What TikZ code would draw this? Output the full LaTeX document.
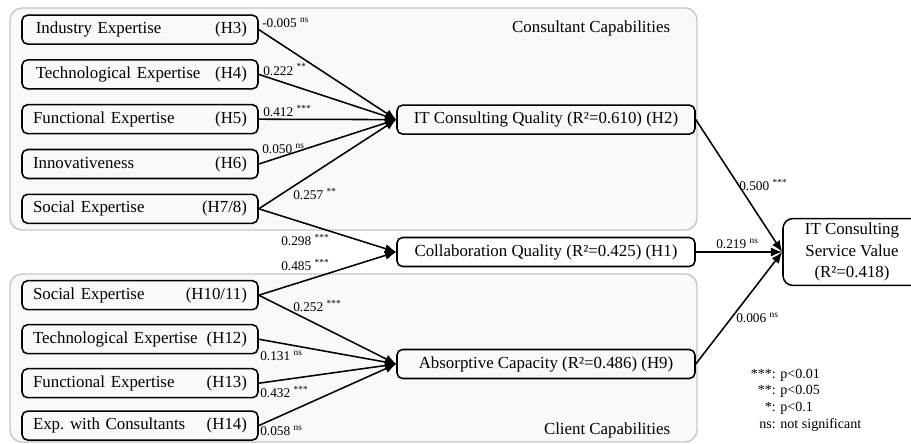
\documentclass[tikz,border=0pt]{standalone}
\usepackage{fontspec}
\setmainfont{Liberation Serif}
\usetikzlibrary{arrows.meta,positioning}

\begin{document}
\begin{tikzpicture}

\tikzset{capbox/.style = {shape=rectangle,draw,rounded corners=4pt,line width=1.1pt,minimum width=5.9cm,minimum height=0.725cm,text width=5.35cm,inner xsep=0.275cm,font=\fontsize{12}{14}\selectfont}}
\tikzset{conbox/.style = {shape=rectangle,draw,rounded corners=4pt,line width=1.1pt,minimum width=7.45cm,minimum height=0.725cm,align=center,font=\fontsize{12}{14}\selectfont}}
\tikzset{coef/.style = {anchor=west,inner sep=0pt,font=\fontsize{9.5}{11}\selectfont}}
\tikzset{edge1/.style = {-{Latex[length=8pt,width=6.5pt]},line width=1.1pt}}
\tikzset{capgroup/.style = {rounded corners=0.3cm,draw=gray!45,fill=gray!5,line width=1pt}}

\useasboundingbox (0,0) rectangle (22.775,-11.075);

% groups
\draw[capgroup] (0.25,-0.2) rectangle (17.425,-5.75);
\draw[capgroup] (0.25,-6.85) rectangle (17.425,-11.05);
\node[anchor=east,font=\fontsize{12}{14}\selectfont] (consgrp) at (16.875,-0.7) {Consultant Capabilities};
\node[anchor=east,font=\fontsize{12}{14}\selectfont] (cligrp) at (16.875,-10.75) {Client Capabilities};

% consultant capabilities
\node[capbox] (ind) at (3.5,-0.74) {\hspace{2pt}Industry Expertise\hfill(H3)};
\node[capbox] (tech) at (3.5,-1.86) {\hspace{2pt}Technological Expertise\hfill(H4)};
\node[capbox] (func) at (3.5,-2.98) {Functional Expertise\hfill(H5)};
\node[capbox] (innov) at (3.5,-4.10) {Innovativeness\hfill(H6)};
\node[capbox] (soc) at (3.5,-5.22) {Social Expertise\hfill(H7/8)};

% client capabilities
\node[capbox] (csoc) at (3.5,-7.38) {Social Expertise\hfill(H10/11)};
\node[capbox] (ctech) at (3.5,-8.48) {Technological Expertise\hfill(H12)};
\node[capbox] (cfunc) at (3.5,-9.58) {Functional Expertise\hfill(H13)};
\node[capbox] (cexp) at (3.5,-10.64) {Exp.\ with Consultants\hfill(H14)};

% mediators
\node[conbox] (icq) at (13.65,-2.99) {IT Consulting Quality (R²=0.610) (H2)};
\node[conbox] (colq) at (13.65,-6.3) {Collaboration Quality (R²=0.425) (H1)};
\node[conbox] (absc) at (13.65,-9.1) {Absorptive Capacity (R²=0.486) (H9)};

% outcome
\node[shape=rectangle,draw,rounded corners=7pt,line width=1.1pt,minimum width=3.45cm,minimum height=1.55cm,align=center,font=\fontsize{12}{15}\selectfont] (isv) at (21.3,-6.3) {IT Consulting\\Service Value\\(R²=0.418)};

%edges
\draw[edge1] (ind.east) -- (icq.west);
\draw[edge1] (tech.east) -- (icq.west);
\draw[edge1] (func.east) -- (icq.west);
\draw[edge1] (innov.east) -- (icq.west);
\draw[edge1] (soc.east) -- (icq.west);
\draw[edge1] (soc.east) -- (colq.west);
\draw[edge1] (csoc.east) -- (colq.west);
\draw[edge1] (csoc.east) -- (absc.west);
\draw[edge1] (ctech.east) -- (absc.west);
\draw[edge1] (cfunc.east) -- (absc.west);
\draw[edge1] (cexp.east) -- (absc.west);
\draw[edge1] (icq.east) -- (isv.west);
\draw[edge1] (colq.east) -- (isv.west);
\draw[edge1] (absc.east) -- (isv.west);

% path coefficients
\node[coef] (c3) at (6.55,-0.575) {-0.005 \textsuperscript{ns}};
\node[coef] (c4) at (6.575,-1.74) {0.222 \textsuperscript{**}};
\node[coef] (c5) at (6.575,-2.775) {0.412 \textsuperscript{***}};
\node[coef] (c6) at (6.55,-3.725) {0.050 \textsuperscript{ns}};
\node[coef] (c7) at (7.325,-4.85) {0.257 \textsuperscript{**}};
\node[coef] (c8) at (7.025,-6.0) {0.298 \textsuperscript{***}};
\node[coef] (c10) at (7.025,-6.625) {0.485 \textsuperscript{***}};
\node[coef] (c11) at (7.325,-7.65) {0.252 \textsuperscript{***}};
\node[coef] (c12) at (6.5,-8.9) {0.131 \textsuperscript{ns}};
\node[coef] (c13) at (6.5,-9.8) {0.432 \textsuperscript{***}};
\node[coef] (c14) at (6.5,-10.775) {0.058 \textsuperscript{ns}};
\node[coef] (c2) at (18.475,-4.625) {0.500 \textsuperscript{***}};
\node[coef] (c1) at (17.9,-6.1) {0.219 \textsuperscript{ns}};
\node[coef] (c9) at (18.4,-7.95) {0.006 \textsuperscript{ns}};

% legend
\node[inner sep=0pt,font=\fontsize{10}{12}\selectfont] (legend) at (20.15,-10.0) {\begin{tabular}{@{}r@{ }l@{}}{***}: & p<0.01\\ {**}: & p<0.05\\ {*}: & p<0.1\\ ns: & not significant\end{tabular}};

\end{tikzpicture}
\end{document}
